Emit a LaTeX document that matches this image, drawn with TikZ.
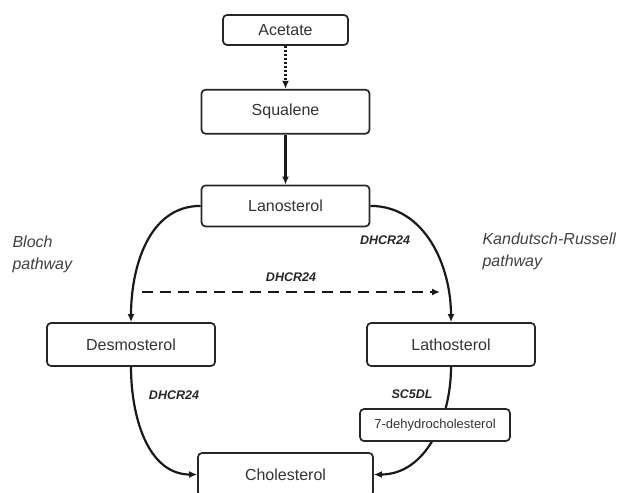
\documentclass[tikz,border=0pt]{standalone}
\usepackage{fontspec}
\setmainfont{Liberation Sans}
\usetikzlibrary{positioning,arrows.meta}

\begin{document}
\begin{tikzpicture}[x=1pt,y=1pt,
    box/.style={draw=black!85,line width=1.7pt,rounded corners=4pt,fill=white,text=black!80,minimum width=168pt,minimum height=43pt,inner sep=0pt,font=\fontsize{16}{19}\selectfont},
    enz/.style={text=black!85,font=\fontsize{12.5}{15}\selectfont\bfseries\itshape},
    route/.style={text=black!75,align=left,anchor=west,font=\fontsize{16}{22}\selectfont\itshape},
    arr/.style={-{Latex[length=8pt,width=7pt]},line width=2.2pt,black!90}]
    \useasboundingbox (0,0) rectangle (623,-492);
    \node[box,minimum width=125pt,minimum height=30pt] (acetate) at (285.5,-30) {Acetate};
    \node[box,below=43pt of acetate,minimum height=44pt] (squalene) {Squalene};
    \node[box,below=50pt of squalene,minimum height=41pt] (lanosterol) {Lanosterol};
    \node[box] (desmosterol) at (131,-344.5) {Desmosterol};
    \node[box] (lathosterol) at (451,-344.5) {Lathosterol};
    \node[box,minimum width=175pt] (cholesterol) at (285.5,-474.5) {Cholesterol};
    \draw[arr,dash pattern=on 2pt off 2pt](acetate)--(squalene); \draw[arr](squalene)--(lanosterol);
    % two branches
    \draw[arr](lanosterol.west) to[out=180,in=90] (desmosterol.north);
    \draw[arr](lanosterol.east) to[out=0,in=90] (lathosterol.north);
    \draw[arr](desmosterol.south) to[out=-90,in=180] (cholesterol.west);
    \draw[arr](lathosterol.south) to[out=-90,in=0] (cholesterol.east);
    \node[box,minimum width=150pt,minimum height=32pt,font=\fontsize{13}{15}\selectfont] (dehydro) at (435,-425) {7-dehydrocholesterol};
    \coordinate (dfrom) at (142,-292); \coordinate (dto) at (440,-292);
    \draw[arr,dash pattern=on 11pt off 7pt](dfrom)--(dto);
    \node[enz] (e1) at (291,-277) {DHCR24};
    \node[enz] (e2) at (385,-240) {DHCR24};
    \node[enz] (e3) at (174,-395) {DHCR24};
    \node[enz] (e4) at (412,-394) {SC5DL};
    \node[route] (bloch) at (9,-254) {Bloch\\pathway};
    \node[route] (kr) at (479,-251) {Kandutsch-Russell\\pathway};
  \end{tikzpicture}
\end{document}
